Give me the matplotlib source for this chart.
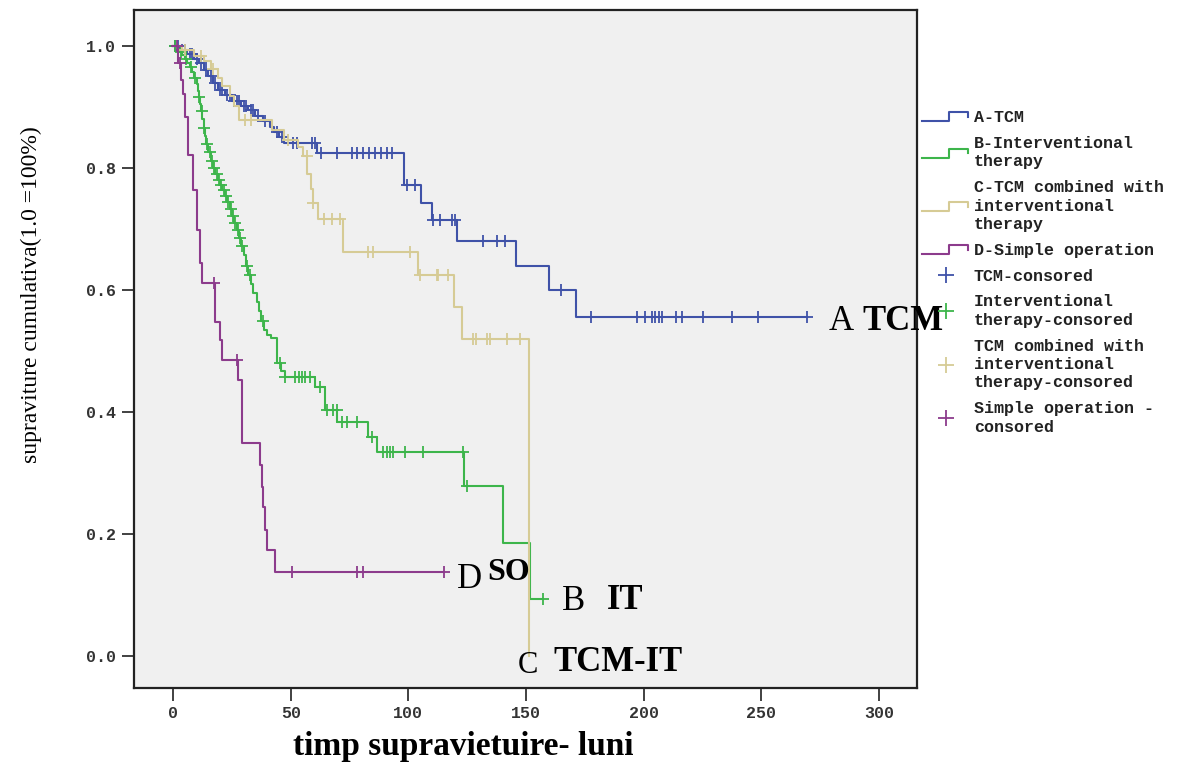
import numpy as np
import matplotlib
matplotlib.use('Agg')
from matplotlib import pyplot as plt
from matplotlib.lines import Line2D
from matplotlib.legend_handler import HandlerBase

# Date (timp in luni, supravietuire cumulativa)
A_time = [0, 3, 6, 9, 11, 13, 15, 17, 19, 22, 25, 29, 32, 35, 38, 41, 43, 45, 47,
          61, 98.2, 105.2, 109.9, 120.5, 145.8, 159.9, 171.1]
A_surv = [1.0, 0.993, 0.986, 0.979, 0.972, 0.961, 0.950, 0.939, 0.928, 0.919, 0.909,
          0.902, 0.895, 0.886, 0.877, 0.868, 0.859, 0.850, 0.841,
          0.824, 0.772, 0.742, 0.715, 0.681, 0.640, 0.600, 0.556]
A_end = 269.6
A_cens = [1, 2, 4, 5, 7, 8, 10, 12, 14, 16, 18, 20, 21, 23, 24, 26, 27, 28, 30, 31,
          33, 34, 36, 39, 44, 46.2, 51.1, 52.6, 58.9, 60.3, 63, 69.5, 76, 78, 80.9,
          83.4, 85.8, 88.3, 90.8, 92.9, 99.3, 102.8, 110.6, 113.5, 118.4, 119.8,
          131.9, 137.6, 141.1, 164.9, 177.5, 197, 200.6, 203.4, 204.8, 206.3,
          207.7, 213.8, 216.2, 225.1, 237.4, 248.7, 269.6]

B_time = [0, 2, 3, 4, 5, 6, 7, 8, 9, 10, 10.5, 11, 11.5, 12, 12.5, 13, 13.5, 14, 15,
          16, 17, 18, 19, 20, 21, 22, 23, 24, 25, 26, 27, 28, 29, 30, 31, 32, 33,
          34, 35.5, 36.5, 37.5, 38.5, 40, 41.5, 44, 46, 47.6, 60.3, 64.6, 69.6,
          83, 86.6, 123.8, 140.4, 151.7]
B_surv = [1.0, 0.995, 0.99, 0.985, 0.978, 0.972, 0.966, 0.957, 0.948, 0.938, 0.927,
          0.917, 0.905, 0.893, 0.880, 0.866, 0.852, 0.840, 0.826, 0.812, 0.800,
          0.790, 0.780, 0.772, 0.764, 0.754, 0.744, 0.733, 0.722, 0.710, 0.698,
          0.686, 0.672, 0.658, 0.640, 0.625, 0.610, 0.596, 0.580, 0.566, 0.550,
          0.534, 0.527, 0.521, 0.480, 0.468, 0.458, 0.441, 0.404, 0.384, 0.360,
          0.335, 0.279, 0.186, 0.093]
B_end = 157.4
B_cens = [1, 3.5, 5.5, 7.5, 9.5, 11.2, 12.2, 13.2, 14.5, 15.5, 16.5, 17.5, 18.5,
          19.5, 20.5, 21.5, 22.5, 23.5, 24.5, 25.5, 26.5, 27.5, 28.5, 29.5, 31.3,
          32.5, 38.4, 45.5, 47.6, 51.8, 53.3, 54.7, 56.1, 58.2, 62.5, 65.3, 68.1,
          69.5, 71.7, 73.8, 78, 84.4, 89.4, 90.7, 92.1, 93.5, 98.5, 106.3, 123.4,
          125.1, 157.4]

C_time = [0, 4, 9, 13, 16, 19, 21, 24, 26, 28, 42, 47, 53, 55, 57, 58.5, 59.5,
          61.5, 72, 104, 119.2, 122.7, 151.3]
C_surv = [1.0, 0.993, 0.984, 0.975, 0.962, 0.948, 0.934, 0.918, 0.902, 0.879,
          0.862, 0.846, 0.835, 0.819, 0.790, 0.765, 0.742, 0.717, 0.663, 0.625,
          0.573, 0.520, 0.0]
C_end = 151.3
C_cens = [5, 12, 17, 30.6, 33, 49, 56.8, 59.6, 64, 67.4, 71, 83, 85, 100.7, 105,
          112, 112.7, 117, 127.6, 128.8, 133.3, 134.7, 141.8, 147.5]

D_time = [0, 2, 3.5, 4.4, 5.1, 6.5, 8.6, 10, 11.3, 12.2, 17.8, 20, 20.7, 27.8,
          29.2, 37, 37.7, 38.4, 39.1, 39.8, 43.3]
D_surv = [1.0, 0.972, 0.945, 0.922, 0.884, 0.821, 0.764, 0.698, 0.644, 0.611,
          0.548, 0.518, 0.485, 0.452, 0.349, 0.313, 0.278, 0.245, 0.207, 0.174,
          0.138]
D_end = 115
D_cens = [1.5, 2.8, 17.5, 27.1, 50.4, 78, 80.9, 115]

curve_labels = ['A-TCM', 'B-Interventional\ntherapy',
                'C-TCM combined with\ninterventional\ntherapy', 'D-Simple operation']
cens_labels = ['TCM-consored', 'Interventional\ntherapy-consored',
               'TCM combined with\ninterventional\ntherapy-consored',
               'Simple operation -\nconsored']
colors = ['#3F52A8', '#3DB54B', '#D6CB95', '#8C3B8C']

groups = [(A_time, A_surv, A_end, A_cens), (B_time, B_surv, B_end, B_cens),
          (C_time, C_surv, C_end, C_cens), (D_time, D_surv, D_end, D_cens)]


class StepHandler(HandlerBase):
    # iconita in trepte pentru legenda (ca in SPSS)
    def create_artists(self, legend, orig_handle, xdescent, ydescent,
                       width, height, fontsize, trans):
        x0, w = -xdescent, width
        y0, h = -ydescent, height
        xs = [x0, x0 + 0.55 * w, x0 + 0.55 * w, x0 + 0.95 * w, x0 + 0.95 * w]
        ys = [y0 + 0.1 * h, y0 + 0.1 * h, y0 + 0.85 * h, y0 + 0.85 * h, y0 + 0.45 * h]
        ln = Line2D(xs, ys, color=orig_handle.get_color(), lw=1.5, transform=trans)
        return [ln]


fig = plt.figure(figsize=(12.02, 7.65), dpi=100)
ax = fig.add_axes([0.1115, 0.1007, 0.6515, 0.8863])
ax.set_facecolor('#F0F0F0')

curve_handles = []
cens_handles = []
for (t, s, end, cens), col in zip(groups, colors):
    t = np.array(t)
    s = np.array(s)
    tt = np.append(t, end)
    ss = np.append(s, s[-1])
    ln, = ax.step(tt, ss, where='post', color=col, lw=1.5)
    idx = np.searchsorted(t, np.array(cens), side='right') - 1
    ax.plot(cens, s[idx], ls='none', marker='+', ms=9, mew=1.3, color=col)
    curve_handles.append(ln)
    cens_handles.append(Line2D([], [], ls='none', marker='+', ms=12, mew=1.3, color=col))

ax.set_xlim(-16.6, 316.2)
ax.set_ylim(-0.052, 1.059)
ax.set_xticks([0, 50, 100, 150, 200, 250, 300])
ax.set_yticks([0.0, 0.2, 0.4, 0.6, 0.8, 1.0])
ax.set_yticklabels(['0.0', '0.2', '0.4', '0.6', '0.8', '1.0'])
for sp in ax.spines.values():
    sp.set_linewidth(1.6)
    sp.set_color('#222222')
ax.tick_params(length=9, width=1.3, color='#333333', pad=4)
for lab in ax.get_xticklabels() + ax.get_yticklabels():
    lab.set_fontfamily('Liberation Mono')
    lab.set_fontweight('bold')
    lab.set_fontsize(12)
    lab.set_color('#333333')

ax.set_xlabel('timp supravietuire- luni', fontfamily='Liberation Serif',
              fontweight='bold', fontsize=24)
ax.xaxis.set_label_coords(0.421, -0.064)
ax.set_ylabel('supraviture cumulativa(1.0 =100%)', fontfamily='Liberation Serif',
              fontsize=17)
ax.yaxis.set_label_coords(-0.118, 0.58)

# etichetele curbelor
big = dict(fontfamily='Liberation Serif', fontsize=25, va='center')
ax.text(278.4, 0.548, 'A', **big)
ax.text(292.8, 0.548, 'TCM', fontweight='bold', **big)
ax.text(120.7, 0.125, 'D', **big)
ax.text(133.4, 0.138, 'SO', fontweight='bold', fontfamily='Liberation Serif',
        fontsize=23, va='center')
ax.text(165.3, 0.089, 'B', **big)
ax.text(184.4, 0.092, 'IT', fontweight='bold', **big)
ax.text(146.6, -0.015, 'C', fontfamily='Liberation Serif', fontsize=22, va='center')
ax.text(161.5, -0.01, 'TCM-IT', fontweight='bold', **big)

leg = ax.legend(curve_handles + cens_handles, curve_labels + cens_labels,
                handler_map={h: StepHandler() for h in curve_handles},
                loc='upper left', bbox_to_anchor=(0.998, 0.862), borderaxespad=0,
                frameon=False, handlelength=2.9, handletextpad=0.2,
                labelspacing=0.65, prop={'family': 'Liberation Mono',
                                         'weight': 'bold', 'size': 12})
for txt in leg.get_texts():
    txt.set_linespacing(1.28)
    txt.set_color('#222222')

plt.savefig('out.png', dpi=100)
